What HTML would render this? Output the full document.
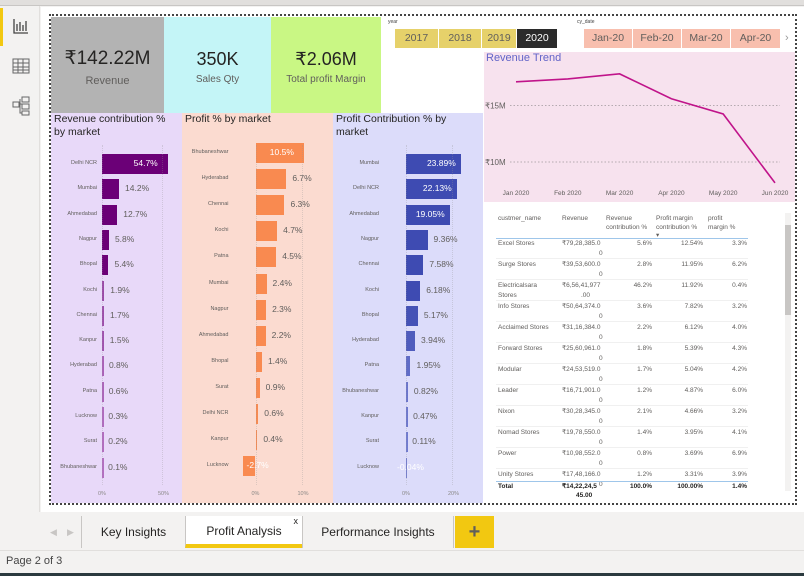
<!DOCTYPE html>
<html><head><meta charset="utf-8">
<style>
*{margin:0;padding:0;box-sizing:border-box}
body{width:804px;height:576px;overflow:hidden;background:#f3f2f1;font-family:"Liberation Sans",sans-serif;position:relative;color:#252423}
.a{position:absolute}
.kv{position:absolute;left:0;right:0;text-align:center;font-size:18px;color:#252423}
.kl{position:absolute;left:0;right:0;text-align:center;font-size:10px;color:#605e5c}
.btn{position:absolute;top:29px;height:19px;font-size:10.5px;color:#605e5c;text-align:center;line-height:19px;border-right:1px solid #fff}
.pt{position:absolute;font-size:10.5px;color:#252423;line-height:13px}
.cat{position:absolute;font-size:5.5px;color:#605e5c;text-align:right;width:70px}
.val{position:absolute;font-size:8.5px;color:#605e5c;white-space:nowrap}
.ax{position:absolute;font-size:5.5px;color:#8a8886}
.th{position:absolute;font-size:6.5px;color:#605e5c;line-height:8.5px}
.td{position:absolute;font-size:6.5px;color:#605e5c;line-height:10px;white-space:nowrap}
.tab{position:absolute;top:516px;height:32px;font-size:12px;line-height:32px;text-align:center;color:#252423;border-left:1px solid #c8c6c4}
</style></head><body>
<div class="a" style="left:0;top:0;width:804px;height:6px;background:#e1dfdd;border-bottom:1px solid #c8c6c4"></div>
<div class="a" style="left:0;top:6px;width:40px;height:506px;background:#f3f2f1;border-right:1px solid #e1dfdd"></div>
<div class="a" style="left:0;top:8px;width:3px;height:38px;background:#f2c811"></div>
<svg class="a" style="left:13px;top:18px" width="16" height="16"><path d="M1 1V15H15M4 13V6M7 13V4M10 13V7M13 13V3" stroke="#444" fill="none" stroke-width="1.3"/></svg>
<svg class="a" style="left:12px;top:58px" width="18" height="16"><path d="M1 1H17V15H1ZM1 5H17M1 9H17M1 12H17M6 1V15M11 1V15" stroke="#666" fill="none" stroke-width="1"/></svg>
<svg class="a" style="left:12px;top:96px" width="18" height="20"><path d="M1 6H7V11H1ZM10 1H17V6H10ZM10 8H17V13H10ZM10 15H17V19H10ZM7 8H10M8 3V17H10" stroke="#666" fill="none" stroke-width="1"/></svg>
<div class="a" style="left:41px;top:7px;width:763px;height:505px;background:#fff"></div>
<div class="a" style="left:49px;top:14px;width:748px;height:491px;border:2px dotted #444"></div>

<div class="a" style="left:51px;top:17px;width:113px;height:96px;background:#b3b3b3"><div class="kv" style="top:30px;font-size:19px">₹142.22M</div><div class="kl" style="top:58px;font-size:11px">Revenue</div></div>
<div class="a" style="left:164px;top:17px;width:107px;height:96px;background:#c4f5f7"><div class="kv" style="top:32px">350K</div><div class="kl" style="top:57px">Sales Qty</div></div>
<div class="a" style="left:271px;top:17px;width:110px;height:96px;background:#c9f784"><div class="kv" style="top:32px">₹2.06M</div><div class="kl" style="top:57px">Total profit Margin</div></div>

<div class="a" style="left:388px;top:19px;font-size:5px;color:#444">year</div>
<div class="btn" style="left:395px;width:44px;background:#e6d16a">2017</div>
<div class="btn" style="left:439px;width:43px;background:#e6d16a">2018</div>
<div class="btn" style="left:482px;width:35px;background:#e6d16a">2019</div>
<div class="btn" style="left:517px;width:41px;background:#2b2b2b;color:#fff">2020</div>
<div class="a" style="left:577px;top:19px;font-size:5px;color:#444">cy_date</div>
<div class="btn" style="left:584px;width:49px;background:#f8bfae">Jan-20</div>
<div class="btn" style="left:633px;width:49px;background:#f8bfae">Feb-20</div>
<div class="btn" style="left:682px;width:49px;background:#f8bfae">Mar-20</div>
<div class="btn" style="left:731px;width:50px;background:#f8bfae">Apr-20</div>
<div class="a" style="left:785px;top:32px;font-size:11px;color:#999">›</div>

<div class="a" style="left:484px;top:52px;width:311px;height:150px;background:#f7e2ee"></div>
<div class="a" style="left:486px;top:52px;font-size:11px;color:#6264c8">Revenue Trend</div>
<svg id="trend" class="a" style="left:484px;top:52px" width="311" height="150"></svg>

<div class="a" style="left:51px;top:113px;width:131px;height:390px;background:#e8d9f9"></div>
<div class="a" style="left:182px;top:113px;width:151px;height:390px;background:#fbdbd0"></div>
<div class="a" style="left:333px;top:113px;width:150px;height:390px;background:#dcdcfa"></div>
<div class="pt" style="left:54px;top:113px">Revenue contribution %<br>by market</div>
<div class="pt" style="left:185px;top:113px">Profit % by market</div>
<div class="pt" style="left:336px;top:113px">Profit Contribution % by<br>market</div>
<div id="bars"></div>

<div id="tbl"></div>
<div class="a" style="left:785px;top:213px;width:6px;height:278px;background:#f3f2f1"><div style="position:absolute;left:0;top:12px;width:6px;height:90px;background:#c8c6c4"></div></div>

<div class="a" style="left:50px;top:527px;font-size:9px;color:#c8c6c4">◀</div>
<div class="a" style="left:67px;top:527px;font-size:9px;color:#c8c6c4">▶</div>
<div class="tab" style="left:81px;width:104px">Key Insights</div>
<div class="tab" style="left:185px;width:117px;background:#fff;border-bottom:4px solid #f2c811;line-height:30px">Profit Analysis<span style="position:absolute;right:4px;top:-10px;font-size:9px">x</span></div>
<div class="tab" style="left:302px;width:152px;border-right:1px solid #c8c6c4">Performance Insights</div>
<div class="a" style="left:455px;top:516px;width:39px;height:32px;background:#f2c811;color:#605e5c;font-size:20px;font-weight:bold;text-align:center;line-height:32px">+</div>
<div class="a" style="left:0;top:550px;width:804px;height:24px;border-top:1px solid #e1dfdd"></div>
<div class="a" style="left:6px;top:555px;font-size:11px;color:#444">Page 2 of 3</div>
<div class="a" style="left:0;top:573px;width:804px;height:3px;background:#2b3a3f"></div>

<script>
// Revenue trend data (₹M)
const trendMonths=["Jan 2020","Feb 2020","Mar 2020","Apr 2020","May 2020","Jun 2020"];
const trendValues=[17.1,17.35,17.8,15.6,14.25,8.15];
const trendTicks=[10,15];

// Bar chart data
const revCats=["Delhi NCR","Mumbai","Ahmedabad","Nagpur","Bhopal","Kochi","Chennai","Kanpur","Hyderabad","Patna","Lucknow","Surat","Bhubaneshwar"];
const revVals=[54.7,14.2,12.7,5.8,5.4,1.9,1.7,1.5,0.8,0.6,0.3,0.2,0.1];
const profCats=["Bhubaneshwar","Hyderabad","Chennai","Kochi","Patna","Mumbai","Nagpur","Ahmedabad","Bhopal","Surat","Delhi NCR","Kanpur","Lucknow"];
const profVals=[10.5,6.7,6.3,4.7,4.5,2.4,2.3,2.2,1.4,0.9,0.6,0.4,-2.7];
const pcCats=["Mumbai","Delhi NCR","Ahmedabad","Nagpur","Chennai","Kochi","Bhopal","Hyderabad","Patna","Bhubaneshwar","Kanpur","Surat","Lucknow"];
const pcVals=[23.89,22.13,19.05,9.36,7.58,6.18,5.17,3.94,1.95,0.82,0.47,0.11,-0.04];

// Table data
const tCust=["Excel Stores","Surge Stores","Electricalsara Stores","Info Stores","Acclaimed Stores","Forward Stores","Modular","Leader","Nixon","Nomad Stores","Power","Unity Stores"];
const tRev=["₹79,28,385.00","₹39,53,600.00","₹6,56,41,977.00","₹50,64,374.00","₹31,16,384.00","₹25,60,961.00","₹24,53,519.00","₹16,71,901.00","₹30,28,345.00","₹19,78,550.00","₹10,98,552.00","₹17,48,166.00"];
const tRevC=["5.6%","2.8%","46.2%","3.6%","2.2%","1.8%","1.7%","1.2%","2.1%","1.4%","0.8%","1.2%"];
const tPmc=["12.54%","11.95%","11.92%","7.82%","6.12%","5.39%","5.04%","4.87%","4.66%","3.95%","3.69%","3.31%"];
const tPm=["3.3%","6.2%","0.4%","3.2%","4.0%","4.3%","4.2%","6.0%","3.2%","4.1%","6.9%","3.9%"];

// --- trend chart ---
(function(){
  const svg=document.getElementById('trend');const NS="http://www.w3.org/2000/svg";
  const x=i=>32+i*(291-32)/(trendMonths.length-1);
  const y=v=>53.5-(v-15)*11.3;
  trendTicks.forEach(t=>{
    const l=document.createElementNS(NS,'line');
    
    
    l.setAttribute('x1',26);l.setAttribute('x2',296);l.setAttribute('y1',y(t));l.setAttribute('y2',y(t));
    l.setAttribute('stroke','#b5a9b0');l.setAttribute('stroke-dasharray','1.5 2');svg.appendChild(l);
    const tx=document.createElementNS(NS,'text');
    
    
    tx.setAttribute('x',1);tx.setAttribute('y',y(t)+3);tx.setAttribute('font-size','8');tx.setAttribute('fill','#605e5c');
    tx.textContent='₹'+t+'M';svg.appendChild(tx);
  });
  trendMonths.forEach((m,i)=>{
    const tx=document.createElementNS(NS,'text');
    
    
    tx.setAttribute('x',x(i));tx.setAttribute('y',143);tx.setAttribute('font-size','6.5');tx.setAttribute('fill','#605e5c');tx.setAttribute('text-anchor','middle');
    tx.textContent=m;svg.appendChild(tx);
  });
  const p=document.createElementNS(NS,'polyline');
  
  
  p.setAttribute('points',trendValues.map((v,i)=>x(i)+','+y(v)).join(' '));
  p.setAttribute('fill','none');p.setAttribute('stroke','#c0148a');p.setAttribute('stroke-width','1.6');
  svg.appendChild(p);
})();

// --- bar charts ---
function mk(cls,name,style,txt){const d=document.createElement('div');d.className=cls;d.style.cssText=style;if(txt!==undefined)d.textContent=txt;document.getElementById('bars').appendChild(d);return d;}
function barChart(cats,vals,o){
  const sx=v=>o.zero+v*o.scale;
  const maxV=Math.max(...vals);
  cats.forEach((c,i)=>{
    const cy=o.y0+i*o.step;
    const cl=mk('cat','bar-category-label','left:'+(o.zero-o.gap-70)+'px;top:'+(cy-4)+'px',c);
    
    const v=vals[i];const x1=Math.min(sx(0),sx(v)),w=Math.max(Math.abs(sx(v)-sx(0)),1.5);
    const t=Math.max(0,v)/maxV;
    const col=o.colFn(t);
    const b=mk('a','bar','left:'+x1+'px;top:'+(cy-10)+'px;width:'+w+'px;height:20px;background:'+col);
    
    const label=(o.dec?v.toFixed(o.dec):v.toFixed(1))+'%';
    let lx,inside=w>o.insideW||v<0;
    if(v<0){lx=sx(0)-9;}else if(inside){lx=sx(v)-34;}else lx=sx(v)+6;
    const lb=mk('val','bar-value-label','left:'+lx+'px;top:'+(cy-6)+'px;'+(inside?'color:#fff;':''),label);
    
  });
  o.ticks.forEach(t=>{
    const a=mk('ax','x-axis-tick','left:'+(sx(t)-4)+'px;top:491px',t+'%');
    
    const g=mk('a','x-gridline','left:'+sx(t)+'px;top:145px;width:0;height:340px;border-left:1px dotted rgba(150,150,150,0.3)');
    
  });
}
function mix(a,b,t){return 'rgb('+a.map((v,i)=>Math.round(b[i]+(v-b[i])*t)).join(',')+')';}
barChart(revCats,revVals,{zero:102,gap:5,scale:1.2,y0:164,step:25.3,insideW:40,ticks:[0,50],colFn:t=>mix([107,0,119],[200,140,215],Math.min(1,t*8+0.2))});
barChart(profCats,profVals,{zero:255.5,gap:27,scale:4.6,y0:153,step:26.1,insideW:40,ticks:[0,10],colFn:t=>'#f98a50'});
barChart(pcCats,pcVals,{zero:406,gap:27,scale:2.3,y0:164,step:25.3,insideW:40,dec:2,ticks:[0,20],colFn:t=>mix([62,75,178],[130,140,220],Math.min(1,t*3+0.25))});

// --- table ---
(function(){
  const root=document.getElementById('tbl');
  function add(cls,name,style,html){const d=document.createElement('div');d.className=cls;d.style.cssText=style;d.innerHTML=html;root.appendChild(d);}
  add('th','header-customer-name','left:498px;top:215px','custmer_name');
  add('th','header-revenue','left:562px;top:215px','Revenue');
  add('th','header-revenue-contribution','left:606px;top:215px','Revenue<br>contribution %');
  add('th','header-profit-margin-contribution','left:656px;top:215px','Profit margin<br>contribution %<br>▾');
  add('th','header-profit-margin','left:708px;top:215px','profit<br>margin %');
  add('a','header-underline','left:496px;top:238px;width:252px;height:1px;background:#9fc6ea','');
  tCust.forEach((c,i)=>{
    const y=239+i*21;
    add('td','cell-customer','left:498px;top:'+y+'px',c.replace('Electricalsara ','Electricalsara<br>'));
    const r=tRev[i];
    add('td','cell-revenue','left:562px;top:'+y+'px',r.slice(0,12)+'<br><span style="margin-left:'+(r.length-12>1?19:37)+'px">'+r.slice(12)+'</span>');
    add('td','cell-revenue-contribution','left:606px;top:'+y+'px;width:46px;text-align:right',tRevC[i]);
    add('td','cell-profit-margin-contribution','left:656px;top:'+y+'px;width:47px;text-align:right',tPmc[i]);
    add('td','cell-profit-margin','left:708px;top:'+y+'px;width:39px;text-align:right',tPm[i]);
    if(i>0)add('a','row-divider','left:496px;top:'+(y-2)+'px;width:252px;height:1px;background:#f0f0f0','');
  });
  add('a','total-divider','left:496px;top:481px;width:252px;height:1px;background:#9fc6ea','');
  const st='font-weight:bold;color:#252423;';
  add('td','total-label','left:498px;top:482px;'+st,'Total');
  add('td','total-revenue','left:562px;top:482px;line-height:9px;'+st,'₹14,22,24,5<br><span style="margin-left:14px">45.00</span>');
  add('td','total-revenue-contribution','left:606px;top:482px;width:46px;text-align:right;line-height:9px;'+st,'100.0%');
  add('td','total-profit-margin-contribution','left:656px;top:482px;width:47px;text-align:right;line-height:9px;'+st,'100.00%');
  add('td','total-profit-margin','left:708px;top:482px;width:39px;text-align:right;line-height:9px;'+st,'1.4%');
})();
</script>
</body></html>
